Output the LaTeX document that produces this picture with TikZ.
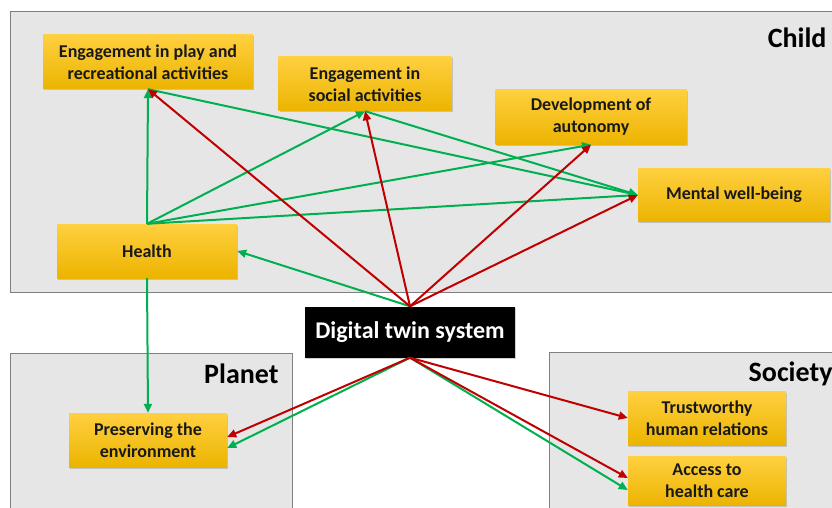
\documentclass[tikz,border=0pt]{standalone}
\usepackage{fontspec}
\setmainfont{Carlito}
\usetikzlibrary{shadows,arrows.meta}
\definecolor{goldtop}{RGB}{255,208,64}
\definecolor{goldbot}{RGB}{236,180,0}
\definecolor{posgreen}{RGB}{0,176,80}
\definecolor{negred}{RGB}{192,0,0}
\definecolor{areagray}{RGB}{230,230,230}

\begin{document}
\begin{tikzpicture}[
		x=1pt, y=-1pt,
		area/.style={draw=black!50, fill=areagray, line width=0.7pt},
		arealabel/.style={font=\bfseries\fontsize{28}{30}\selectfont, anchor=east},
		goal/.style={rectangle, top color=goldtop, bottom color=goldbot, align=center,
				drop shadow={shadow xshift=1pt, shadow yshift=-1.5pt, opacity=0.35},
				font=\bfseries\fontsize{18}{22}\selectfont, text=black!90, inner sep=2pt},
		system/.style={rectangle, fill=black, text=white, minimum width=210pt, minimum height=51pt,
				drop shadow={shadow xshift=1pt, shadow yshift=-1.5pt, opacity=0.35},
				font=\bfseries\fontsize{24}{28}\selectfont},
		posarrow/.style={draw=posgreen, line width=2pt, -{Triangle[length=9pt,width=8pt]}},
		negarrow/.style={draw=negred, line width=2pt, -{Triangle[length=9pt,width=8pt]}}
	]
	\useasboundingbox (0,0) rectangle (832,508);

	\fill[white] (0,0) rectangle (832,508);
	\draw[area] (10,11) rectangle (845,292);
	\draw[area] (10,353) rectangle (292,520);
	\draw[area] (549,352) rectangle (845,520);
	\node[arealabel] (child) at (830,38) {Child};
	\node[arealabel] (planet) at (282,374) {Planet};
	\node[arealabel] (society) at (836,374) {Society};

	\node[goal, minimum width=210pt, minimum height=54pt] (play) at (148,62) {Engagement in play and\\recreational activities};
	\node[goal, minimum width=173pt, minimum height=54pt] (social) at (365,84) {Engagement in\\social activities};
	\node[goal, minimum width=191pt, minimum height=55pt] (autonomy) at (591,117) {Development of\\autonomy};
	\node[goal, minimum width=192pt, minimum height=53pt] (mental) at (734,195) {Mental well-being};
	\node[goal, minimum width=180pt, minimum height=54pt] (health) at (147,251) {Health};
	\node[system] (twin) at (410,332) {Digital twin system};
	\node[goal, minimum width=158pt, minimum height=54pt] (environment) at (148,440) {Preserving the\\environment};
	\node[goal, minimum width=158pt, minimum height=54pt] (relations) at (707,418) {Trustworthy\\human relations};
	\node[goal, minimum width=158pt, minimum height=49pt] (care) at (707,481) {Access to\\health care};

	\draw[posarrow] (health.north) -- (play.south);
	\draw[posarrow] (health.north) -- (social.south);
	\draw[posarrow] (health.north) -- (autonomy.south);
	\draw[posarrow] (health.north) -- (mental.west);
	\draw[posarrow] (play.south) -- (mental.west);
	\draw[posarrow] (social.south) -- (mental.west);
	\draw[posarrow] (twin.north) -- (health.east);
	\draw[posarrow] (health.south) -- (environment.north);
	\draw[posarrow] (twin.south) -- ([yshift=-8pt]environment.east);
	\draw[posarrow] (twin.south) -- ([yshift=-9pt]care.west);

	\draw[negarrow] (twin.north) -- (play.south);
	\draw[negarrow] (twin.north) -- (social.south);
	\draw[negarrow] (twin.north) -- (autonomy.south);
	\draw[negarrow] (twin.north) -- (mental.west);
	\draw[negarrow] (twin.south) -- ([yshift=3pt]environment.east);
	\draw[negarrow] (twin.south) -- (relations.west);
	\draw[negarrow] (twin.south) -- ([yshift=3pt]care.west);
\end{tikzpicture}
\end{document}
